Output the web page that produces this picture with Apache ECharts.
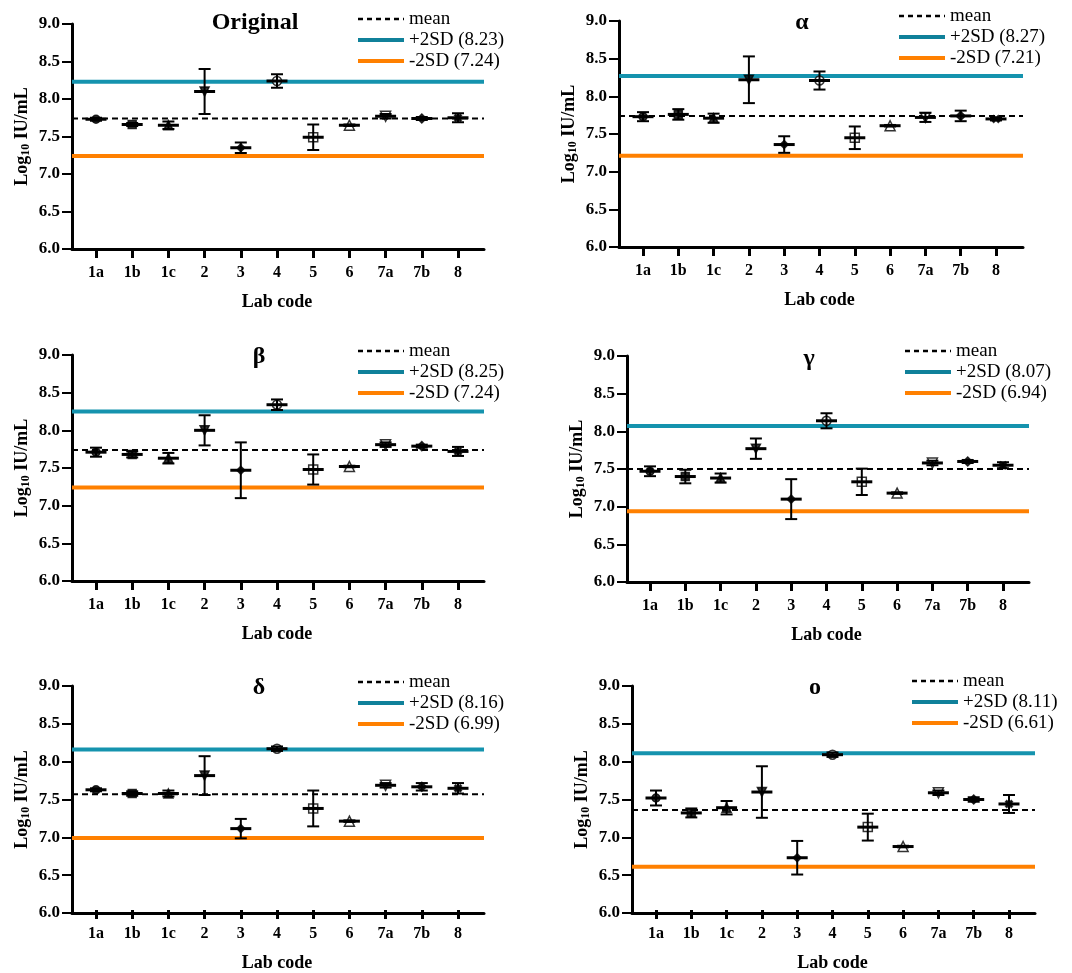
<!DOCTYPE html>
<html>
<head>
<meta charset="utf-8">
<script src="https://cdn.jsdelivr.net/npm/echarts@6/dist/echarts.min.js"></script>
<style>
  html, body { margin: 0; padding: 0; background: #fff; }
  #chart { width: 1072px; height: 973px; }
</style>
</head>
<body>
<div id="chart"></div>
<script>
// lab codes on the x axis
var labs = ['1a', '1b', '1c', '2', '3', '4', '5', '6', '7a', '7b', '8'];
var panelTitles = ['Original', 'α', 'β', 'γ', 'δ', 'ο'];

// mean and SD of each lab, per panel (log10 IU/mL)
var origMean  = [7.73, 7.66, 7.65, 8.10, 7.35, 8.24, 7.49, 7.65, 7.77, 7.74, 7.75];
var origErr   = [0.02, 0.02, 0.05, 0.30, 0.07, 0.09, 0.17, 0.01, 0.03, 0.02, 0.06];
var alphaMean = [7.73, 7.76, 7.71, 8.22, 7.36, 8.21, 7.45, 7.61, 7.72, 7.74, 7.70];
var alphaErr  = [0.06, 0.07, 0.06, 0.31, 0.11, 0.12, 0.15, 0.01, 0.06, 0.07, 0.02];
var betaMean  = [7.71, 7.68, 7.63, 8.00, 7.47, 8.34, 7.48, 7.52, 7.81, 7.79, 7.72];
var betaErr   = [0.06, 0.04, 0.07, 0.20, 0.37, 0.07, 0.20, 0.01, 0.03, 0.02, 0.06];
var gammaMean = [7.47, 7.40, 7.38, 7.77, 7.10, 8.14, 7.33, 7.18, 7.58, 7.60, 7.55];
var gammaErr  = [0.065, 0.09, 0.06, 0.135, 0.265, 0.10, 0.175, 0.01, 0.03, 0.02, 0.04];
var deltaMean = [7.61, 7.56, 7.56, 7.80, 7.09, 8.16, 7.36, 7.19, 7.67, 7.65, 7.63];
var deltaErr  = [0.02, 0.03, 0.04, 0.26, 0.13, 0.03, 0.24, 0.01, 0.03, 0.05, 0.07];
var omiMean   = [7.50, 7.30, 7.37, 7.58, 6.70, 8.08, 7.11, 6.85, 7.57, 7.48, 7.42];
var omiErr    = [0.10, 0.06, 0.09, 0.345, 0.225, 0.03, 0.18, 0.01, 0.03, 0.03, 0.12];

// reference lines per panel
var meanLine = [7.74, 7.74, 7.74, 7.50, 7.57, 7.36];
var plus2SD  = [8.23, 8.27, 8.25, 8.07, 8.16, 8.11];
var minus2SD = [7.24, 7.21, 7.24, 6.94, 6.99, 6.61];

var panelMeans = [origMean, alphaMean, betaMean, gammaMean, deltaMean, omiMean];
var panelErrs = [origErr, alphaErr, betaErr, gammaErr, deltaErr, omiErr];

// where each panel sits on the page (pixels)
var layout = [
  {ax: 72,  top: 24,  bot: 249, right: 484,  c1: 96,  c8: 458,  legX: 356, legY: 9,   tx: 255, ty: 23},
  {ax: 619, top: 21,  bot: 247, right: 1023, c1: 643, c8: 996,  legX: 897, legY: 6,   tx: 802, ty: 23},
  {ax: 72,  top: 355, bot: 581, right: 484,  c1: 96,  c8: 458,  legX: 356, legY: 341, tx: 259, ty: 357},
  {ax: 627, top: 356, bot: 582, right: 1029, c1: 650, c8: 1003, legX: 903, legY: 341, tx: 809, ty: 359},
  {ax: 72,  top: 686, bot: 913, right: 484,  c1: 96,  c8: 458,  legX: 356, legY: 672, tx: 259, ty: 688},
  {ax: 632, top: 686, bot: 913, right: 1035, c1: 656, c8: 1009, legX: 910, legY: 671, tx: 815, ty: 688}
];

// marker per lab: shape, filled, rotation, size
var marks = [
  {s: 'circle', f: true, r: 0, z: 8},
  {s: 'rect', f: true, r: 0, z: 8},
  {s: 'triangle', f: true, r: 0, z: 9},
  {s: 'triangle', f: true, r: 180, z: 9},
  {s: 'diamond', f: true, r: 0, z: 8},
  {s: 'circle', f: false, r: 0, z: 9},
  {s: 'rect', f: false, r: 0, z: 9},
  {s: 'triangle', f: false, r: 0, z: 10},
  {s: 'triangle', f: false, r: 180, z: 10},
  {s: 'diamond', f: true, r: 0, z: 9},
  {s: 'path://M4,0H6V4H10V6H6V10H4V6H0V4H4Z', f: true, r: 45, z: 8}
];

var SERIF = '"Liberation Serif", "Times New Roman", serif';
var CYAN = '#1593ae';
var CYAN_KEY = '#10819a';
var ORANGE = '#ff8000';

function renderErr(params, api) {
  var m = api.value(1), e = api.value(2), x = api.value(0);
  var c = api.coord([x, m]);
  var hi = api.coord([x, m + e]);
  var lo = api.coord([x, m - e]);
  var thin = {stroke: '#000', lineWidth: 2};
  return {
    type: 'group',
    children: [
      {type: 'line', shape: {x1: c[0], y1: hi[1], x2: c[0], y2: lo[1]}, style: thin},
      {type: 'line', shape: {x1: c[0] - 6, y1: hi[1], x2: c[0] + 6, y2: hi[1]}, style: thin},
      {type: 'line', shape: {x1: c[0] - 6, y1: lo[1], x2: c[0] + 6, y2: lo[1]}, style: thin},
      {type: 'line', shape: {x1: c[0] - 10.5, y1: c[1], x2: c[0] + 10.5, y2: c[1]}, style: {stroke: '#000', lineWidth: 3}}
    ]
  };
}

var grids = [], xAxes = [], yAxes = [], series = [], legends = [], graphics = [];

layout.forEach(function (L, p) {
  var step = (L.c8 - L.c1) / (labs.length - 1);
  var innerLeft = L.c1 - step / 2;
  var outer = 2 * p, inner = 2 * p + 1;

  grids.push({left: L.ax, top: L.top, width: L.right - L.ax, height: L.bot - L.top});
  grids.push({left: innerLeft, top: L.top, width: step * labs.length, height: L.bot - L.top});

  xAxes.push({
    type: 'value', gridIndex: outer, min: 0, max: 1,
    axisLine: {show: true, lineStyle: {color: '#000', width: 3}},
    axisTick: {show: false}, axisLabel: {show: false}, splitLine: {show: false}
  });
  xAxes.push({
    type: 'category', gridIndex: inner, data: labs, boundaryGap: true,
    axisLine: {show: false},
    axisTick: {show: true, alignWithLabel: true, length: 9, lineStyle: {color: '#000', width: 3}},
    axisLabel: {color: '#000', fontFamily: SERIF, fontWeight: 'bold', fontSize: 16, margin: 16},
    name: 'Lab code', nameLocation: 'middle', nameGap: 44,
    nameTextStyle: {color: '#000', fontFamily: SERIF, fontWeight: 'bold', fontSize: 18}
  });

  yAxes.push({
    type: 'value', gridIndex: outer, min: 6, max: 9, interval: 0.5,
    axisLine: {show: true, lineStyle: {color: '#000', width: 3}},
    axisTick: {show: true, length: 10, lineStyle: {color: '#000', width: 2}},
    axisLabel: {
      color: '#000', fontFamily: SERIF, fontWeight: 'bold', fontSize: 17, margin: 12,
      formatter: function (v) { return v.toFixed(1); }
    },
    splitLine: {show: false},
    name: '{a|Log}{b|10}{a| IU/mL}', nameLocation: 'middle', nameRotate: 90, nameGap: 40,
    nameTextStyle: {
      color: '#000',
      rich: {
        a: {fontFamily: SERIF, fontWeight: 'bold', fontSize: 18, color: '#000'},
        b: {fontFamily: SERIF, fontWeight: 'bold', fontSize: 12, color: '#000', padding: [8, 0, 0, 0]}
      }
    }
  });
  yAxes.push({type: 'value', gridIndex: inner, min: 6, max: 9, show: false});

  var upName = '+2SD (' + plus2SD[p].toFixed(2) + ')';
  var loName = '-2SD (' + minus2SD[p].toFixed(2) + ')';

  series.push({
    name: 'mean', type: 'line', xAxisIndex: outer, yAxisIndex: outer, symbol: 'none', z: 2,
    lineStyle: {color: '#000', width: 2, type: [6, 4]}, itemStyle: {color: '#000'},
    data: [[0, meanLine[p]], [1, meanLine[p]]], silent: true
  });
  series.push({
    name: upName, type: 'line', xAxisIndex: outer, yAxisIndex: outer, symbol: 'none', z: 2,
    lineStyle: {color: CYAN, width: 4}, itemStyle: {color: CYAN},
    data: [[0, plus2SD[p]], [1, plus2SD[p]]], silent: true
  });
  series.push({
    name: loName, type: 'line', xAxisIndex: outer, yAxisIndex: outer, symbol: 'none', z: 2,
    lineStyle: {color: ORANGE, width: 4}, itemStyle: {color: ORANGE},
    data: [[0, minus2SD[p]], [1, minus2SD[p]]], silent: true
  });

  var means = panelMeans[p], errs = panelErrs[p];
  series.push({
    type: 'scatter', xAxisIndex: inner, yAxisIndex: inner, z: 3, silent: true,
    data: labs.map(function (lab, i) {
      var mk = marks[i];
      return {
        value: [i, means[i]],
        symbol: mk.s, symbolSize: mk.z, symbolRotate: mk.r,
        itemStyle: {color: mk.f ? '#000' : '#fff', borderColor: '#000', borderWidth: 1.5}
      };
    })
  });
  series.push({
    type: 'custom', xAxisIndex: inner, yAxisIndex: inner, z: 4, silent: true,
    renderItem: renderErr,
    data: labs.map(function (lab, i) { return [i, means[i], errs[i]]; })
  });

  legends.push({
    left: L.legX, top: L.legY, orient: 'vertical', selectedMode: false,
    itemWidth: 46, itemHeight: 12, itemGap: 1, padding: 0,
    itemStyle: {opacity: 0},
    textStyle: {color: '#000', fontFamily: SERIF, fontSize: 19, lineHeight: 20},
    data: [
      {name: 'mean', lineStyle: {width: 2.5, type: [5, 4]}},
      {name: upName, lineStyle: {color: CYAN_KEY, width: 4}},
      {name: loName, lineStyle: {width: 4}}
    ]
  });

  graphics.push({
    type: 'text', x: L.tx, y: L.ty, z: 10,
    style: {
      text: panelTitles[p], fill: '#000', textAlign: 'center', textVerticalAlign: 'middle',
      font: 'bold 24px ' + SERIF
    }
  });
});

var chart = echarts.init(document.getElementById('chart'), null, {renderer: 'canvas'});
chart.setOption({
  backgroundColor: '#fff',
  animation: false,
  grid: grids,
  xAxis: xAxes,
  yAxis: yAxes,
  legend: legends,
  graphic: graphics,
  series: series
});
</script>
</body>
</html>
